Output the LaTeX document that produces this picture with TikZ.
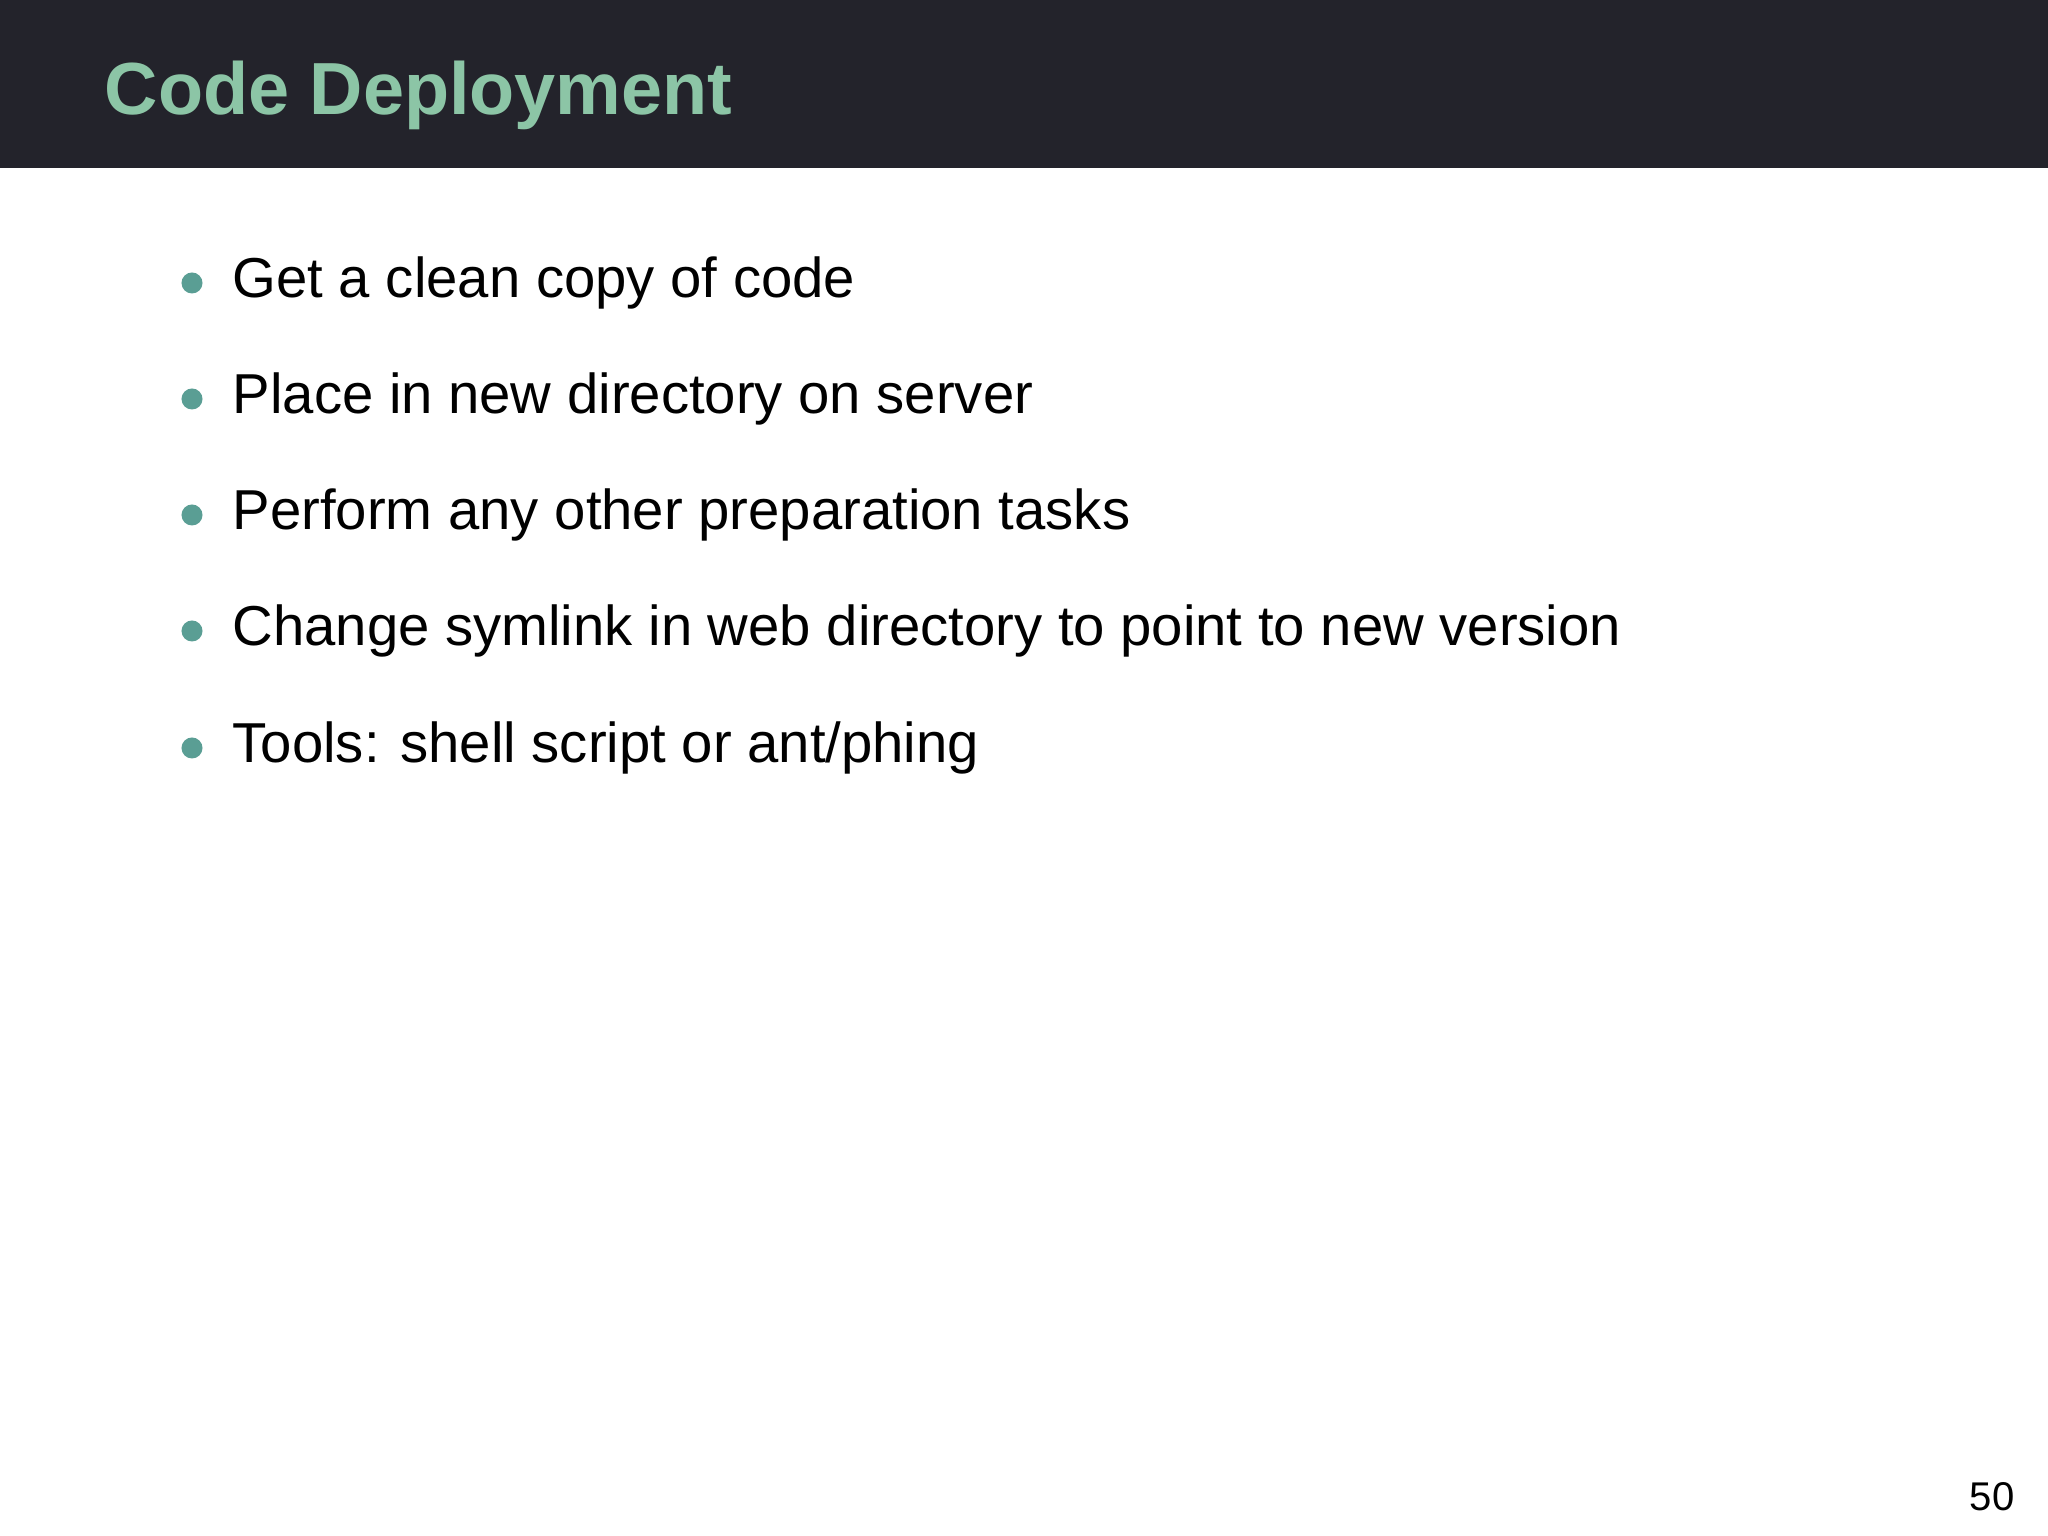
\documentclass[tikz,border=0pt]{standalone}
\usepackage{fontspec}
\setmainfont{Liberation Sans}
\definecolor{barc}{HTML}{23232B}
\definecolor{titc}{HTML}{8CC5A6}
\definecolor{bulc}{HTML}{5A9E94}
\begin{document}
\begin{tikzpicture}[x=0.01cm,y=0.01cm,
  item/.style={anchor=base west,inner sep=0pt,font=\fontsize{16pt}{19pt}\selectfont},
  dot/.style={circle,fill=bulc,inner sep=0pt,minimum size=0.21cm}]
\useasboundingbox (0,0) rectangle (2048,1536);
\fill[white] (0,0) rectangle (2048,1536);
\fill[barc] (0,1368) rectangle (2048,1536);
\node[anchor=base west,inner sep=0pt,text=titc,font=\fontsize{21pt}{25pt}\selectfont\bfseries] (title) at (104,1421) {Code Deployment};
\foreach \i/\y/\t in {1/1238/{Get a clean copy of code},
                      2/1122/{Place in new directory on server},
                      3/1006/{Perform any other preparation tasks},
                      4/890/{Change symlink in web directory to point to new version},
                      5/773/{Tools: shell script or ant/phing}}{
  \node[dot] (d\i) at (192,\y+15) {};
  \node[item] (t\i) at (232,\y) {\t};
}
\node[anchor=base east,inner sep=0pt,font=\fontsize{11.4pt}{14pt}\selectfont] (pg) at (2015,25) {50};
\end{tikzpicture}
\end{document}
